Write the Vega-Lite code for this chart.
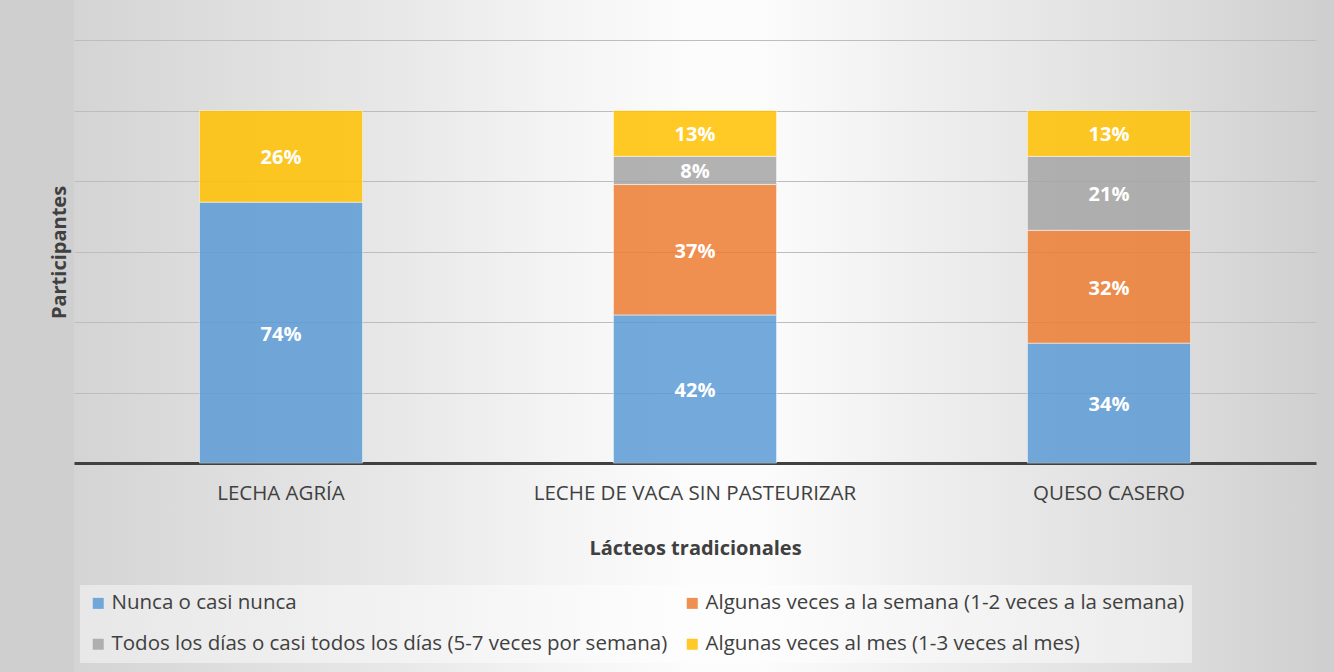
{
  "$schema": "https://vega.github.io/schema/vega-lite/v6.json",
  "width": 1242,
  "height": 672,
  "autosize": {"type": "none"},
  "padding": {"left": 74, "top": 0, "right": 18, "bottom": 0},
  "background": "#cfcfcf",
  "data": {
    "values": [
      {"lacteo": "LECHA AGRÍA", "frecuencia": "Nunca o casi nunca", "orden": 1, "pct": 0.74},
      {"lacteo": "LECHA AGRÍA", "frecuencia": "Algunas veces al mes (1-3 veces al mes)", "orden": 4, "pct": 0.26},
      {"lacteo": "LECHE DE VACA SIN PASTEURIZAR", "frecuencia": "Nunca o casi nunca", "orden": 1, "pct": 0.42},
      {"lacteo": "LECHE DE VACA SIN PASTEURIZAR", "frecuencia": "Algunas veces a la semana (1-2 veces a la semana)", "orden": 2, "pct": 0.37},
      {"lacteo": "LECHE DE VACA SIN PASTEURIZAR", "frecuencia": "Todos los días o casi todos los días (5-7 veces por semana)", "orden": 3, "pct": 0.08},
      {"lacteo": "LECHE DE VACA SIN PASTEURIZAR", "frecuencia": "Algunas veces al mes (1-3 veces al mes)", "orden": 4, "pct": 0.13},
      {"lacteo": "QUESO CASERO", "frecuencia": "Nunca o casi nunca", "orden": 1, "pct": 0.34},
      {"lacteo": "QUESO CASERO", "frecuencia": "Algunas veces a la semana (1-2 veces a la semana)", "orden": 2, "pct": 0.32},
      {"lacteo": "QUESO CASERO", "frecuencia": "Todos los días o casi todos los días (5-7 veces por semana)", "orden": 3, "pct": 0.21},
      {"lacteo": "QUESO CASERO", "frecuencia": "Algunas veces al mes (1-3 veces al mes)", "orden": 4, "pct": 0.13}
    ]
  },
  "transform": [
    {"stack": "pct", "groupby": ["lacteo"], "sort": [{"field": "orden", "order": "ascending"}], "as": ["y0", "y1"]},
    {"calculate": "(datum.y0 + datum.y1) / 2", "as": "ymid"}
  ],
  "encoding": {
    "x": {
      "field": "lacteo",
      "type": "nominal",
      "sort": ["LECHA AGRÍA", "LECHE DE VACA SIN PASTEURIZAR", "QUESO CASERO"],
      "scale": {"paddingInner": 0.606, "paddingOuter": 0.303},
      "axis": {
        "title": "Lácteos tradicionales",
        "offset": -209,
        "labelAngle": 0,
        "labelFont": "Open Sans",
        "labelFontSize": 20.5,
        "labelColor": "#404040",
        "labelPadding": 20,
        "labelLimit": 0,
        "ticks": false,
        "domainColor": "#404040",
        "domainWidth": 3,
        "titleFont": "Open Sans",
        "titleFontSize": 20,
        "titleFontWeight": "bold",
        "titleColor": "#404040",
        "titlePadding": 35
      }
    }
  },
  "layer": [
    {
      "mark": {"type": "bar", "fillOpacity": 0.85, "stroke": "#ffffff", "strokeWidth": 1, "strokeOpacity": 0.5},
      "encoding": {
        "y": {
          "field": "y1",
          "type": "quantitative",
          "scale": {"domain": [-0.5929, 1.3135], "nice": false, "zero": false},
          "axis": {
            "title": "Participantes",
            "values": [0, 0.2, 0.4, 0.6, 0.8, 1.0, 1.2],
            "labels": false,
            "ticks": false,
            "domain": false,
            "gridColor": "#bdbdbd",
            "gridWidth": 1,
            "titleFont": "Open Sans",
            "titleFontSize": 20,
            "titleFontWeight": "bold",
            "titleColor": "#404040",
            "titlePadding": 5,
            "titleY": 252
          }
        },
        "y2": {"field": "y0"},
        "color": {
          "field": "frecuencia",
          "type": "nominal",
          "scale": {
            "domain": [
              "Nunca o casi nunca",
              "Algunas veces a la semana (1-2 veces a la semana)",
              "Todos los días o casi todos los días (5-7 veces por semana)",
              "Algunas veces al mes (1-3 veces al mes)"
            ],
            "range": ["#5B9BD5", "#ED7D31", "#A5A5A5", "#FFC000"]
          },
          "legend": {
            "title": null,
            "orient": "none",
            "legendX": 6,
            "legendY": 585,
            "direction": "horizontal",
            "columns": 2,
            "gridAlign": "all",
            "columnPadding": 14,
            "rowPadding": 20,
            "symbolType": "square",
            "symbolSize": 121,
            "symbolStrokeWidth": 0,
            "symbolOpacity": 0.85,
            "labelFont": "Open Sans",
            "labelFontSize": 20.5,
            "labelColor": "#404040",
            "labelLimit": 0,
            "labelOffset": 3,
            "padding": 8,
            "fillColor": "rgba(255,255,255,0.45)"
          }
        }
      }
    },
    {
      "mark": {"type": "text", "color": "#ffffff", "font": "Open Sans", "fontSize": 20, "fontWeight": "bold", "baseline": "middle", "align": "center", "dy": 2},
      "encoding": {
        "y": {"field": "ymid", "type": "quantitative"},
        "text": {"field": "pct", "type": "quantitative", "format": ".0%"}
      }
    }
  ],
  "config": {
    "view": {
      "stroke": null,
      "fill": {
        "gradient": "linear",
        "x1": 0, "y1": 0, "x2": 1, "y2": 0,
        "stops": [
          {"offset": 0, "color": "#d4d4d4"},
          {"offset": 0.1, "color": "#dcdcdc"},
          {"offset": 0.26, "color": "#e8e8e8"},
          {"offset": 0.39, "color": "#f4f4f4"},
          {"offset": 0.5, "color": "#fcfcfc"},
          {"offset": 0.55, "color": "#fcfcfc"},
          {"offset": 0.67, "color": "#f0f0f0"},
          {"offset": 0.87, "color": "#dedede"},
          {"offset": 1, "color": "#d0d0d0"}
        ]
      }
    }
  }
}
